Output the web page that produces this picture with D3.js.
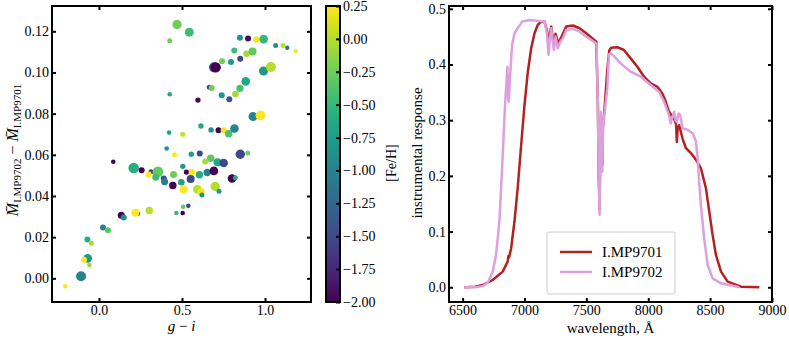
<!DOCTYPE html>
<html>
<head>
<meta charset="utf-8">
<script src="https://cdn.jsdelivr.net/npm/d3@7"></script>
<style>
  body { margin: 0; background: #fff; }
  svg text { font-family: "Liberation Serif", "Times New Roman", serif; fill: #000; }
</style>
</head>
<body>
<script>

// ---- scatter: g-i colour vs magnitude difference, coloured by [Fe/H]
var giValues = [0.470, 0.544, 0.426, 0.849, 0.898, 0.948, 0.992, 1.064, 1.108, 1.134, 1.185, 0.815, 0.889, 0.925, 0.741, 0.795, 0.851, 0.693, 0.703, 0.991,
  1.036, 0.884, 0.849, 0.822, 0.785, 0.664, 0.679, 0.739, 0.426, 0.596, 0.928, 0.973, 0.614, 0.675, 0.720, 0.751, 0.781, 0.816, 0.422, 0.504,
  0.408, 0.455, 0.556, 0.607, 0.673, 0.640, 0.714, 0.751, 0.851, 0.896, 0.086, 0.209, 0.257, 0.313, 0.299, 0.355, 0.342, 0.390, 0.395, 0.449,
  0.445, 0.505, 0.527, 0.560, 0.605, 0.652, 0.692, 0.552, 0.496, 0.801, 0.821, 0.509, 0.593, 0.614, 0.620, 0.700, 0.723, 0.507, 0.538, 0.466,
  0.504, 0.303, 0.233, 0.219, 0.134, 0.149, 0.024, 0.054, -0.070, -0.046, -0.068, -0.090, -0.058, -0.108, -0.203];
var dMagValues = [0.1233, 0.1196, 0.1154, 0.1169, 0.1165, 0.1160, 0.1162, 0.1131, 0.1131, 0.1120, 0.1104, 0.1107, 0.1091, 0.1102, 0.1055, 0.1051, 0.1067, 0.1025, 0.1025, 0.1007,
  0.1027, 0.0957, 0.0923, 0.0895, 0.0870, 0.0928, 0.0925, 0.0890, 0.0894, 0.0866, 0.0786, 0.0791, 0.0740, 0.0721, 0.0719, 0.0719, 0.0702, 0.0728, 0.0708, 0.0700,
  0.0631, 0.0600, 0.0603, 0.0606, 0.0583, 0.0568, 0.0564, 0.0560, 0.0603, 0.0609, 0.0566, 0.0536, 0.0525, 0.0518, 0.0504, 0.0518, 0.0491, 0.0485, 0.0469, 0.0504,
  0.0451, 0.0544, 0.0516, 0.0515, 0.0503, 0.0514, 0.0522, 0.0483, 0.0467, 0.0485, 0.0489, 0.0432, 0.0432, 0.0419, 0.0405, 0.0447, 0.0423, 0.0348, 0.0352, 0.0317,
  0.0317, 0.0330, 0.0315, 0.0318, 0.0306, 0.0296, 0.0247, 0.0234, 0.0189, 0.0171, 0.0097, 0.0090, 0.0065, 0.0010, -0.0039];
var fehValues = [-0.25, -0.45, -0.25, -0.85, -1.95, 0.22, -0.50, -0.85, 0.00, -1.10, 0.25, -0.45, -0.05, -0.30, -0.25, -0.80, -1.50, -1.45, -2.00, -0.80,
  0.00, -0.65, -0.40, -0.05, -1.45, -1.50, -0.25, -0.80, -0.65, -1.95, -1.00, 0.25, -0.65, -0.85, -2.00, 0.20, -0.40, -1.00, -0.70, 0.05,
  -0.85, 0.25, -0.75, -1.50, -0.30, -0.05, -0.65, -1.50, -1.50, -0.25, -2.00, -0.60, -2.00, -1.50, 0.25, -0.30, -0.45, -1.45, -1.05, -0.25,
  -2.00, -0.80, -2.00, 0.25, -0.60, -1.00, -2.00, -1.50, -0.70, -2.00, -0.60, 0.25, 0.00, 0.20, -0.85, 0.00, -0.80, -0.30, -1.50, -0.45,
  -2.00, 0.00, -1.50, 0.25, -2.00, -0.90, -1.00, -0.35, -0.60, -0.05, -0.80, 0.25, -0.10, -1.00, 0.25];
var sizeValues = [88, 81, 25, 36, 36, 44, 74, 25, 25, 19, 21, 36, 44, 64, 36, 36, 36, 100, 108, 81,
  100, 74, 55, 44, 36, 25, 36, 36, 21, 29, 81, 100, 29, 29, 36, 36, 55, 74, 21, 25,
  21, 25, 29, 36, 55, 36, 64, 74, 88, 25, 21, 112, 36, 25, 36, 112, 49, 36, 49, 49,
  55, 29, 29, 44, 55, 55, 74, 64, 44, 74, 25, 64, 74, 55, 25, 88, 25, 21, 21, 21,
  21, 55, 25, 64, 49, 36, 36, 36, 36, 25, 74, 36, 21, 100, 21];

var giTicks = [0.0, 0.5, 1.0];
var dMagTicks = [0.00, 0.02, 0.04, 0.06, 0.08, 0.10, 0.12];
var fehTicks = [0.25, 0.00, -0.25, -0.50, -0.75, -1.00, -1.25, -1.50, -1.75, -2.00];

// ---- filter responses
var wave9701 = [6514, 6600, 6662, 6743, 6824, 6864, 6870, 6876, 6892, 6919, 6945, 6973, 7000, 7027, 7054, 7081, 7107, 7135, 7162, 7182,
  7194, 7205, 7216, 7237, 7251, 7273, 7300, 7337, 7391, 7445, 7499, 7580, 7593, 7600, 7607, 7612, 7617, 7623, 7629, 7634,
  7639, 7650, 7669, 7685, 7700, 7750, 7804, 7858, 7912, 7966, 8020, 8074, 8114, 8142, 8168, 8196, 8215, 8225, 8231, 8238,
  8250, 8277, 8304, 8345, 8385, 8425, 8466, 8493, 8520, 8547, 8588, 8642, 8750, 8898];
var resp9701 = [0.000, 0.001, 0.004, 0.013, 0.028, 0.046, 0.056, 0.054, 0.070, 0.118, 0.178, 0.255, 0.327, 0.387, 0.429, 0.456, 0.471, 0.477, 0.477, 0.460,
  0.440, 0.455, 0.468, 0.435, 0.455, 0.438, 0.450, 0.468, 0.470, 0.465, 0.456, 0.441, 0.330, 0.200, 0.140, 0.250, 0.300, 0.280, 0.220, 0.290,
  0.300, 0.330, 0.390, 0.425, 0.430, 0.431, 0.426, 0.411, 0.396, 0.378, 0.366, 0.360, 0.348, 0.333, 0.315, 0.306, 0.300, 0.292, 0.261, 0.285,
  0.291, 0.267, 0.250, 0.241, 0.229, 0.214, 0.178, 0.136, 0.094, 0.058, 0.028, 0.010, 0.001, 0.000];
var wave9702 = [6514, 6600, 6662, 6703, 6743, 6770, 6797, 6824, 6840, 6851, 6862, 6868, 6873, 6884, 6900, 6919, 6945, 6965, 6981, 7040,
  7121, 7162, 7182, 7194, 7205, 7216, 7237, 7251, 7269, 7289, 7310, 7337, 7391, 7445, 7499, 7567, 7582, 7593, 7600, 7607,
  7612, 7617, 7623, 7629, 7634, 7639, 7650, 7669, 7682, 7696, 7723, 7777, 7858, 7939, 8020, 8087, 8128, 8168, 8182, 8195,
  8209, 8220, 8231, 8245, 8258, 8277, 8318, 8360, 8385, 8398, 8410, 8425, 8452, 8480, 8520, 8588, 8735];
var resp9702 = [0.000, 0.000, 0.002, 0.008, 0.028, 0.058, 0.118, 0.237, 0.315, 0.357, 0.396, 0.340, 0.333, 0.381, 0.435, 0.456, 0.465, 0.471, 0.477, 0.480,
  0.478, 0.477, 0.455, 0.417, 0.445, 0.465, 0.426, 0.450, 0.429, 0.441, 0.447, 0.462, 0.464, 0.459, 0.450, 0.440, 0.437, 0.327, 0.200, 0.130,
  0.250, 0.315, 0.280, 0.208, 0.290, 0.297, 0.320, 0.357, 0.418, 0.420, 0.415, 0.402, 0.387, 0.378, 0.363, 0.351, 0.333, 0.309, 0.294, 0.305,
  0.315, 0.300, 0.297, 0.312, 0.309, 0.285, 0.283, 0.276, 0.262, 0.235, 0.195, 0.148, 0.088, 0.040, 0.016, 0.007, 0.000];

var filterNames = ["I.MP9701", "I.MP9702"];
var filterColors = ["#b22222", "#dda0dd"];
var waveTicks = [6500, 7000, 7500, 8000, 8500, 9000];
var respTicks = [0.0, 0.1, 0.2, 0.3, 0.4, 0.5];

var serif = "'Liberation Serif', 'Times New Roman', serif";

var svg = d3.select("body").append("svg")
  .attr("width", 789)
  .attr("height", 338)
  .style("font-family", serif);

var tickLen = 4;

// draws the four-sided frame with inward ticks
function drawFrame(x, y, xTicks, yTicks, fmtX, fmtY) {
  var x0 = x.range()[0], x1 = x.range()[1];
  var y0 = y.range()[1], y1 = y.range()[0];
  var g = svg.append("g");

  g.append("g").attr("transform", "translate(0," + y1 + ")")
    .call(d3.axisBottom(x).tickValues(xTicks).tickSize(-tickLen).tickPadding(3).tickFormat(fmtX));
  g.append("g").attr("transform", "translate(0," + y0 + ")")
    .call(d3.axisTop(x).tickValues(xTicks).tickSize(-tickLen).tickFormat(""));
  g.append("g").attr("transform", "translate(" + x0 + ",0)")
    .call(d3.axisLeft(y).tickValues(yTicks).tickSize(-tickLen).tickPadding(3).tickFormat(fmtY));
  g.append("g").attr("transform", "translate(" + x1 + ",0)")
    .call(d3.axisRight(y).tickValues(yTicks).tickSize(-tickLen).tickFormat(""));

  g.selectAll("g").attr("font-family", serif).attr("font-size", 14);
  g.selectAll(".domain").remove();
  g.selectAll(".tick line").attr("stroke", "#000").attr("stroke-width", 2);
  g.selectAll(".tick text").style("font-family", serif).style("font-size", "14px").attr("fill", "#000");

  g.append("rect")
    .attr("x", x0).attr("y", y0)
    .attr("width", x1 - x0).attr("height", y1 - y0)
    .attr("fill", "none").attr("stroke", "#000").attr("stroke-width", 2);
  return g;
}

// ================= left panel =================
var xGI = d3.scaleLinear().domain([-0.283, 1.277]).range([52, 311]);
var yDM = d3.scaleLinear().domain([-0.0115, 0.1323]).range([302, 6]);
var rScale = d3.scaleSqrt().domain([0, 100]).range([0, 5]);
var colorScale = d3.scaleSequential(d3.interpolateViridis).domain([-2, 0.25]);

var stars = giValues.map(function(g, i) {
  return { gi: g, dm: dMagValues[i], feh: fehValues[i], size: sizeValues[i] };
});

svg.append("g").selectAll("circle")
  .data(stars)
  .enter().append("circle")
  .attr("cx", function(d) { return xGI(d.gi); })
  .attr("cy", function(d) { return yDM(d.dm); })
  .attr("r", function(d) { return rScale(d.size); })
  .attr("fill", function(d) { return colorScale(d.feh); });

drawFrame(xGI, yDM, giTicks, dMagTicks, d3.format(".1f"), d3.format(".2f"));

// x label g - i
var gx = svg.append("text").attr("x", 181.5).attr("y", 331).attr("text-anchor", "middle").style("font-size", "15px");
gx.append("tspan").style("font-style", "italic").text("g");
gx.append("tspan").text(" \u2212 ");
gx.append("tspan").style("font-style", "italic").text("i");

// y label
var yl = svg.append("text")
  .attr("transform", "translate(18,150) rotate(-90)")
  .attr("text-anchor", "middle").style("font-size", "16px");
yl.append("tspan").style("font-style", "italic").text("M\u0304");
yl.append("tspan").attr("dy", 3).style("font-size", "11px").text("I.MP9702");
yl.append("tspan").attr("dy", -3).text(" \u2212 ");
yl.append("tspan").style("font-style", "italic").text("M\u0304");
yl.append("tspan").attr("dy", 3).style("font-size", "11px").text("I.MP9701");

// colorbar
var cbX = 326, cbW = 14;
var yCB = d3.scaleLinear().domain([-2, 0.25]).range([302, 6]);
var grad = svg.append("defs").append("linearGradient")
  .attr("id", "viridisGrad").attr("x1", 0).attr("y1", 1).attr("x2", 0).attr("y2", 0);
d3.range(0, 1.0001, 0.05).forEach(function(t) {
  grad.append("stop").attr("offset", t).attr("stop-color", d3.interpolateViridis(t));
});
svg.append("rect").attr("x", cbX).attr("y", 6).attr("width", cbW).attr("height", 296)
  .attr("fill", "url(#viridisGrad)");
var cbAxis = svg.append("g").attr("transform", "translate(" + (cbX + cbW) + ",0)")
  .call(d3.axisRight(yCB).tickValues(fehTicks).tickSize(-tickLen).tickPadding(3).tickFormat(d3.format(".2f")));
cbAxis.attr("font-family", serif);
cbAxis.select(".domain").remove();
cbAxis.selectAll(".tick line").attr("stroke", "#000").attr("stroke-width", 2);
cbAxis.selectAll(".tick text").style("font-family", serif).style("font-size", "14px").attr("fill", "#000");
svg.append("rect").attr("x", cbX).attr("y", 6).attr("width", cbW).attr("height", 296)
  .attr("fill", "none").attr("stroke", "#000").attr("stroke-width", 2);
svg.append("text")
  .attr("transform", "translate(391,163) rotate(-90)")
  .attr("text-anchor", "middle").attr("dominant-baseline", "central")
  .style("font-size", "14px").text("[Fe/H]");

// ================= right panel =================
var xW = d3.scaleLinear().domain([6390, 9000]).range([449, 772]);
var yR = d3.scaleLinear().domain([-0.0265, 0.505]).range([302, 6]);

var line = d3.line()
  .x(function(d) { return xW(d[0]); })
  .y(function(d) { return yR(d[1]); });

var curves = [
  wave9701.map(function(w, i) { return [w, resp9701[i]]; }),
  wave9702.map(function(w, i) { return [w, resp9702[i]]; })
];

svg.append("g").selectAll("path")
  .data(curves)
  .enter().append("path")
  .attr("d", line)
  .attr("fill", "none")
  .attr("stroke", function(d, i) { return filterColors[i]; })
  .attr("stroke-width", 2.5)
  .attr("stroke-linejoin", "round");

drawFrame(xW, yR, waveTicks, respTicks, d3.format("d"), d3.format(".1f"));

svg.append("text").attr("x", 610.5).attr("y", 333).attr("text-anchor", "middle")
  .style("font-size", "15px").text("wavelength, \u00c5");
svg.append("text")
  .attr("transform", "translate(417,153) rotate(-90)")
  .attr("text-anchor", "middle").attr("dominant-baseline", "central")
  .style("font-size", "15px").text("instrumental response");

// legend
var legend = svg.append("g").attr("transform", "translate(547,232)");
legend.append("rect").attr("width", 128).attr("height", 62).attr("rx", 2)
  .attr("fill", "#fff").attr("stroke", "#ccc").attr("stroke-width", 1);
filterNames.forEach(function(name, i) {
  legend.append("line")
    .attr("x1", 13).attr("x2", 45)
    .attr("y1", 20 + i * 20).attr("y2", 20 + i * 20)
    .attr("stroke", filterColors[i]).attr("stroke-width", 2.5);
  legend.append("text")
    .attr("x", 55).attr("y", 20 + i * 20)
    .attr("dominant-baseline", "central")
    .style("font-size", "15px").text(name);
});

</script>
</body>
</html>
